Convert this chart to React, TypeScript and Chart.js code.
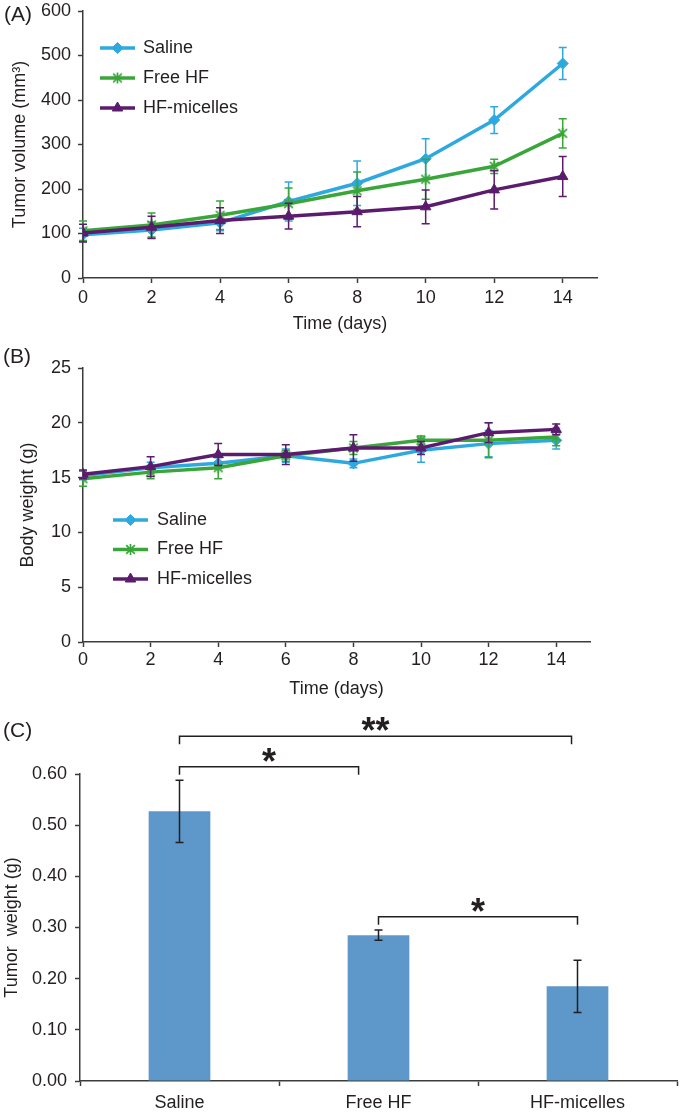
import React, { useEffect, useRef } from 'react';
import { Chart, registerables } from 'chart.js';
import { drawPoint } from 'chart.js/helpers';

Chart.register(...registerables);

// ---------------- data ----------------
const days = [0, 2, 4, 6, 8, 10, 12, 14];
const seriesLabels = ['Saline', 'Free HF', 'HF-micelles'];

// (A) tumor volume (mm3)
const volumeSaline = [97, 108, 124, 172, 213, 268, 355, 482];
const volumeSalineErr = [15, 18, 18, 44, 50, 45, 30, 36];
const volumeFreeHF = [106, 119, 141, 167, 196, 222, 251, 325];
const volumeFreeHFErr = [22, 27, 32, 35, 42, 45, 16, 33];
const volumeMicelles = [101, 114, 129, 139, 149, 160, 198, 228];
const volumeMicellesErr = [20, 25, 29, 29, 34, 38, 43, 45];

// (B) body weight (g)
const weightSaline = [15.2, 15.9, 16.3, 17.0, 16.3, 17.5, 18.1, 18.4];
const weightSalineErr = [0.4, 0.5, 0.5, 0.6, 0.4, 1.1, 1.2, 0.8];
const weightFreeHF = [14.9, 15.5, 15.9, 17.0, 17.7, 18.4, 18.4, 18.7];
const weightFreeHFErr = [0.7, 0.6, 1.0, 0.5, 0.6, 0.4, 1.6, 0.8];
const weightMicelles = [15.3, 16.0, 17.1, 17.1, 17.7, 17.7, 19.1, 19.4];
const weightMicellesErr = [0.4, 0.9, 1.0, 0.9, 1.2, 0.6, 0.9, 0.5];

// (C) tumor weight (g)
const groups = ['Saline', 'Free HF', 'HF-micelles'];
const tumorWeight = [0.527, 0.285, 0.185];
const tumorWeightErr = [0.061, 0.01, 0.051];

// significance brackets (category index from/to, level in g)
const bracketFrom = [0, 0, 1];
const bracketTo = [1.97, 0.9, 2];
const bracketLevel = [0.674, 0.614, 0.321];
const bracketMark = ['**', '*', '*'];

// axis ranges / ticks
const dayMax = 15;
const dayStep = 2;
const volumeMax = 600;
const volumeStep = 100;
const weightMax = 25;
const weightStep = 5;
const tumorMax = 0.6;
const tumorStep = 0.1;

// ---------------- styles ----------------
const FONT = "'Liberation Sans', Arial, Helvetica, sans-serif";
const TEXT = '#231f20';
const AXIS = '#3c3c3c';
const C_SALINE = '#2ea9df';
const C_FREE = '#3aa63a';
const C_MICELLE = '#5b1c6d';
const C_BAR = '#5e98ca';

function makeAsteriskMarker(color: string, size: number) {
  const c = document.createElement('canvas');
  c.width = size;
  c.height = size;
  const g = c.getContext('2d') as CanvasRenderingContext2D;
  g.strokeStyle = color;
  g.lineWidth = 1.7;
  const m = size / 2;
  const r = size / 2 - 1;
  const d = r * 0.78;
  g.beginPath();
  g.moveTo(m, m - r);
  g.lineTo(m, m + r);
  g.moveTo(m - d, m - d);
  g.lineTo(m + d, m + d);
  g.moveTo(m + d, m - d);
  g.lineTo(m - d, m + d);
  g.stroke();
  return c;
}

const errorBarPlugin = (lineWidth: number, capHalf: number, fixedColor?: string) => ({
  id: 'errorBars',
  afterDatasetDraw(chart: any, args: any) {
    const ds = chart.data.datasets[args.index];
    const errs: number[] | undefined = ds.errors;
    if (!errs) return;
    const yScale = chart.scales.y;
    const ctx = chart.ctx;
    ctx.save();
    ctx.strokeStyle = fixedColor || ds.borderColor;
    ctx.lineWidth = lineWidth;
    args.meta.data.forEach((el: any, i: number) => {
      const raw = ds.data[i];
      const v = typeof raw === 'object' ? raw.y : raw;
      const x = el.x;
      const t = yScale.getPixelForValue(v + errs[i]);
      const b = yScale.getPixelForValue(v - errs[i]);
      ctx.beginPath();
      ctx.moveTo(x, t);
      ctx.lineTo(x, b);
      ctx.moveTo(x - capHalf, t);
      ctx.lineTo(x + capHalf, t);
      ctx.moveTo(x - capHalf, b);
      ctx.lineTo(x + capHalf, b);
      ctx.stroke();
    });
    ctx.restore();
  },
});

const lineLegendPlugin = (x: number, y: number, lineLen: number, textGap: number, rowH: number) => ({
  id: 'lineLegend',
  afterDraw(chart: any) {
    const ctx = chart.ctx;
    ctx.save();
    chart.data.datasets.forEach((ds: any, i: number) => {
      const cy = y + i * rowH;
      ctx.strokeStyle = ds.borderColor;
      ctx.lineWidth = ds.borderWidth;
      ctx.beginPath();
      ctx.moveTo(x, cy);
      ctx.lineTo(x + lineLen, cy);
      ctx.stroke();
      ctx.fillStyle = ds.pointBackgroundColor;
      ctx.strokeStyle = ds.pointBorderColor;
      ctx.lineWidth = 1;
      drawPoint(ctx, { pointStyle: ds.pointStyle, radius: ds.pointRadius, rotation: 0, borderWidth: 1 } as any, x + lineLen / 2, cy);
      ctx.fillStyle = TEXT;
      ctx.font = `18px ${FONT}`;
      ctx.textBaseline = 'middle';
      ctx.textAlign = 'left';
      ctx.fillText(ds.label, x + lineLen + textGap, cy);
    });
    ctx.restore();
  },
});

const panelLabelPlugin = (text: string, x: number, y: number) => ({
  id: 'panelLabel',
  afterDraw(chart: any) {
    const ctx = chart.ctx;
    ctx.save();
    ctx.fillStyle = TEXT;
    ctx.font = `21px ${FONT}`;
    ctx.textBaseline = 'middle';
    ctx.textAlign = 'left';
    ctx.fillText(text, x, y);
    ctx.restore();
  },
});

const bracketPlugin = {
  id: 'brackets',
  afterDraw(chart: any) {
    const { ctx } = chart;
    const xs = chart.scales.x;
    const ys = chart.scales.y;
    ctx.save();
    ctx.strokeStyle = TEXT;
    ctx.fillStyle = TEXT;
    ctx.lineWidth = 1.5;
    for (let i = 0; i < bracketMark.length; i++) {
      const x1 = xs.getPixelForValue(bracketFrom[i]);
      const x2 = xs.getPixelForValue(bracketTo[i]);
      const yy = ys.getPixelForValue(bracketLevel[i]);
      ctx.beginPath();
      ctx.moveTo(x1, yy + 8);
      ctx.lineTo(x1, yy);
      ctx.lineTo(x2, yy);
      ctx.lineTo(x2, yy + 8);
      ctx.stroke();
      ctx.font = `bold 36px ${FONT}`;
      ctx.textAlign = 'center';
      ctx.textBaseline = 'alphabetic';
      ctx.fillText(bracketMark[i], (x1 + x2) / 2, yy + 7);
    }
    ctx.restore();
  },
};

const tickFont = { family: FONT, size: 18 };
const gridStyle = { drawOnChartArea: false, drawTicks: true, tickLength: 5, color: AXIS, tickWidth: 1.5 };
const borderStyle = { display: true, color: AXIS, width: 1.5 };

function lineDatasets(vals: number[][], errs: number[][], star: HTMLCanvasElement) {
  const colors = [C_SALINE, C_FREE, C_MICELLE];
  const styles: any[] = ['rectRot', star, 'triangle'];
  const radii = [5.5, 6, 6];
  const orders = [3, 2, 1];
  return vals.map((v, k) => ({
    label: seriesLabels[k],
    data: days.map((d, i) => ({ x: d, y: v[i] })),
    errors: errs[k],
    borderColor: colors[k],
    backgroundColor: colors[k],
    pointBackgroundColor: colors[k],
    pointBorderColor: colors[k],
    pointBorderWidth: 1,
    pointStyle: styles[k],
    pointRadius: radii[k],
    borderWidth: 3.5,
    tension: 0,
    order: orders[k],
  }));
}

function lineOptions(p: {
  yMax: number; yStep: number; yTitle: string; yTitlePad: number; xTitlePad: number;
  xTickPad: number; xAxisH: number; padTop: number; padRight: number;
}) {
  return {
    responsive: false,
    animation: false as const,
    layout: { padding: { top: p.padTop, right: p.padRight, bottom: 0, left: 0 } },
    plugins: { legend: { display: false }, tooltip: { enabled: false } },
    scales: {
      x: {
        type: 'linear' as const,
        min: 0,
        max: dayMax,
        ticks: { stepSize: dayStep, includeBounds: false, padding: p.xTickPad, color: TEXT, font: tickFont },
        grid: gridStyle,
        border: borderStyle,
        title: { display: true, text: 'Time (days)', color: TEXT, font: tickFont, padding: { top: 0, bottom: p.xTitlePad } },
        afterFit: (s: any) => { s.height = p.xAxisH; },
      },
      y: {
        type: 'linear' as const,
        min: 0,
        max: p.yMax,
        ticks: { stepSize: p.yStep, padding: 7, color: TEXT, font: tickFont },
        grid: gridStyle,
        border: borderStyle,
        title: { display: true, text: p.yTitle, color: TEXT, font: tickFont, padding: { top: p.yTitlePad, bottom: 0 } },
        afterFit: (s: any) => { s.width = 83; s.paddingTop = 0; },
      },
    },
  };
}

export default function App() {
  const refA = useRef<HTMLCanvasElement>(null);
  const refB = useRef<HTMLCanvasElement>(null);
  const refC = useRef<HTMLCanvasElement>(null);

  useEffect(() => {
    document.body.style.margin = '0';
    const star = makeAsteriskMarker(C_FREE, 13);

    const chartA = new Chart(refA.current as HTMLCanvasElement, {
      type: 'line',
      data: {
        datasets: lineDatasets(
          [volumeSaline, volumeFreeHF, volumeMicelles],
          [volumeSalineErr, volumeFreeHFErr, volumeMicellesErr],
          star,
        ) as any,
      },
      options: lineOptions({
        yMax: volumeMax, yStep: volumeStep, yTitle: 'Tumor volume (mm³)', yTitlePad: 9,
        xTitlePad: 5, xTickPad: 4, xAxisH: 62, padTop: 11, padRight: 86,
      }) as any,
      plugins: [errorBarPlugin(1.5, 4), lineLegendPlugin(100, 48, 35, 8, 30), panelLabelPlugin('(A)', 4, 15)],
    });

    const chartB = new Chart(refB.current as HTMLCanvasElement, {
      type: 'line',
      data: {
        datasets: lineDatasets(
          [weightSaline, weightFreeHF, weightMicelles],
          [weightSalineErr, weightFreeHFErr, weightMicellesErr],
          star,
        ) as any,
      },
      options: lineOptions({
        yMax: weightMax, yStep: weightStep, yTitle: 'Body weight (g)', yTitlePad: 17,
        xTitlePad: 0, xTickPad: 2, xAxisH: 58, padTop: 28, padRight: 93,
      }) as any,
      plugins: [errorBarPlugin(1.5, 4), lineLegendPlugin(113, 180, 35, 9, 29.5), panelLabelPlugin('(B)', 3, 17)],
    });

    const chartC = new Chart(refC.current as HTMLCanvasElement, {
      type: 'bar',
      data: {
        labels: groups,
        datasets: [
          {
            label: 'Tumor weight',
            data: tumorWeight,
            errors: tumorWeightErr,
            backgroundColor: C_BAR,
            borderWidth: 0,
            barPercentage: 0.31,
            categoryPercentage: 1,
          } as any,
        ],
      },
      options: {
        responsive: false,
        animation: false,
        layout: { padding: { top: 74, right: 6, bottom: 0, left: 0 } },
        plugins: { legend: { display: false }, tooltip: { enabled: false } },
        scales: {
          x: {
            ticks: { padding: 6, color: TEXT, font: tickFont },
            grid: { ...gridStyle, offset: true },
            border: borderStyle,
            afterFit: (s: any) => { s.height = 32; },
          },
          y: {
            min: 0,
            max: tumorMax,
            ticks: {
              stepSize: tumorStep, padding: 8, color: TEXT, font: tickFont,
              callback: (v: any) => Number(v).toFixed(2),
            },
            grid: gridStyle,
            border: borderStyle,
            title: { display: true, text: 'Tumor  weight (g)', color: TEXT, font: tickFont, padding: { top: 1, bottom: 0 } },
            afterFit: (s: any) => { s.width = 80; },
          },
        },
      } as any,
      plugins: [errorBarPlugin(1.5, 4, TEXT), bracketPlugin, panelLabelPlugin('(C)', 3, 31)],
    });

    return () => {
      chartA.destroy();
      chartB.destroy();
      chartC.destroy();
    };
  }, []);

  const cs: React.CSSProperties = { position: 'absolute', left: 0, display: 'block' };
  return (
    <div style={{ position: 'absolute', left: 0, top: 0, width: 683, height: 1113, background: '#fff' }}>
      <canvas ref={refA} width={683} height={340} style={{ ...cs, top: 0 }} />
      <canvas ref={refB} width={683} height={360} style={{ ...cs, top: 340 }} />
      <canvas ref={refC} width={683} height={413} style={{ ...cs, top: 700 }} />
    </div>
  );
}
